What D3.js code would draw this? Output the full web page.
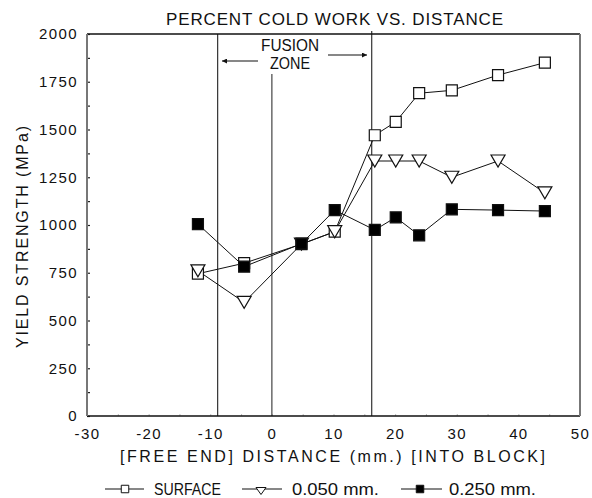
<!DOCTYPE html>
<html>
<head>
<meta charset="utf-8">
<script src="https://cdn.jsdelivr.net/npm/d3@7/dist/d3.min.js"></script>
<style>
  body { margin: 0; background: #fff; }
  svg text { font-family: "Liberation Sans", Arial, sans-serif; fill: #111; }
</style>
</head>
<body>
<svg id="chart" width="592" height="498"></svg>
<script>
// Measurement positions (mm from weld centre) and yield strengths (MPa)
const distance = [-12, -4.5, 4.8, 10.2, 16.7, 20.1, 23.9, 29.2, 36.7, 44.3];
const surface  = [745, 800, 900, 965, 1470, 1540, 1690, 1705, 1785, 1850];
const depth050 = [760, 595, 900, 965, 1335, 1335, 1335, 1250, 1335, 1168];
const depth250 = [1005, 782, 902, 1078, 974, 1040, 946, 1082, 1078, 1073];

const seriesNames = ["SURFACE", "0.050 mm.", "0.250 mm."];
const xTicks = [-30, -20, -10, 0, 10, 20, 30, 40, 50];
const yTicks = [0, 250, 500, 750, 1000, 1250, 1500, 1750, 2000];
const fusionEdges = [-8.8, 16.2];
const weldCentre = 0;

const svg = d3.select("#chart");
const plotL = 87, plotR = 580, plotT = 34, plotB = 416;

const x = d3.scaleLinear().domain([-30, 50]).range([plotL, plotR]);
const y = d3.scaleLinear().domain([0, 2000]).range([plotB, plotT]);

// Text helper: wide, evenly spaced lettering
function label(parent, str, px, len, adjust) {
  return parent.append("text")
    .style("font-size", px + "px")
    .attr("textLength", len)
    .attr("lengthAdjust", adjust || "spacing")
    .text(str);
}

// Title
label(svg, "PERCENT COLD WORK VS. DISTANCE", 17, 337).attr("x", 166).attr("y", 25);

// Minor ticks (inside the frame)
svg.append("g")
  .attr("transform", `translate(${plotL},0)`)
  .call(d3.axisRight(y).tickValues(d3.range(0, 2001, 125)).tickSize(3).tickFormat(""))
  .call(g => g.select(".domain").remove())
  .call(g => g.selectAll("line").attr("stroke", "#222").attr("stroke-width", 1.2));

svg.append("g")
  .attr("transform", `translate(0,${plotB})`)
  .call(d3.axisTop(x).tickValues(d3.range(-30, 51, 5)).tickSize(2).tickFormat(""))
  .call(g => g.select(".domain").remove())
  .call(g => g.selectAll("line").attr("stroke", "#bbb"));

// Tick labels
svg.append("g")
  .attr("transform", `translate(${plotL},0)`)
  .call(d3.axisLeft(y).tickValues(yTicks).tickSize(0).tickPadding(9).tickFormat(d3.format("d")))
  .call(g => g.select(".domain").remove())
  .call(g => g.selectAll("text").attr("fill", "#111")
    .style("font-size", "15px").style("letter-spacing", "1.4px")
    .style("font-family", "'Liberation Sans', Arial, sans-serif"));

svg.append("g")
  .attr("transform", `translate(0,${plotB})`)
  .call(d3.axisBottom(x).tickValues(xTicks).tickSize(0).tickPadding(12).tickFormat(d => d < 0 ? "-" + Math.abs(d) : d))
  .call(g => g.select(".domain").remove())
  .call(g => g.selectAll("text").attr("fill", "#111")
    .style("font-size", "15px").style("letter-spacing", "1.4px")
    .style("font-family", "'Liberation Sans', Arial, sans-serif"));

// Fusion zone boundaries and weld centre line
svg.append("line")
  .attr("x1", x(fusionEdges[0])).attr("x2", x(fusionEdges[0]))
  .attr("y1", plotT).attr("y2", plotB)
  .attr("stroke", "#333").attr("stroke-width", 1.2);
svg.append("line")
  .attr("x1", x(fusionEdges[1])).attr("x2", x(fusionEdges[1]))
  .attr("y1", plotT - 3).attr("y2", plotB)
  .attr("stroke", "#333").attr("stroke-width", 1.2);
svg.append("line")
  .attr("x1", x(weldCentre)).attr("x2", x(weldCentre))
  .attr("y1", 74).attr("y2", plotB)
  .attr("stroke", "#444").attr("stroke-width", 1.2);

// Fusion zone annotation
const defs = svg.append("defs");
defs.append("marker")
  .attr("id", "arrowhead").attr("viewBox", "0 0 10 10")
  .attr("refX", 10).attr("refY", 5)
  .attr("markerWidth", 9).attr("markerHeight", 5)
  .attr("markerUnits", "userSpaceOnUse")
  .attr("orient", "auto")
  .append("path").attr("d", "M0,0 L10,5 L0,10 Z").attr("fill", "#111");

label(svg, "FUSION", 16, 58, "spacingAndGlyphs").attr("x", 261).attr("y", 51);
label(svg, "ZONE", 16, 40, "spacingAndGlyphs").attr("x", 270).attr("y", 69);
svg.append("line").attr("x1", 258).attr("x2", 222).attr("y1", 61).attr("y2", 61)
  .attr("stroke", "#111").attr("stroke-width", 1.2).attr("marker-end", "url(#arrowhead)");
svg.append("line").attr("x1", 328).attr("x2", 367).attr("y1", 55).attr("y2", 55)
  .attr("stroke", "#111").attr("stroke-width", 1.2).attr("marker-end", "url(#arrowhead)");

// Frame
svg.append("line").attr("x1", plotL).attr("x2", plotR).attr("y1", plotT).attr("y2", plotT)
  .attr("stroke", "#111").attr("stroke-width", 1.5);
svg.append("line").attr("x1", plotL).attr("x2", plotR).attr("y1", plotB).attr("y2", plotB)
  .attr("stroke", "#111").attr("stroke-width", 1.5);
svg.append("line").attr("x1", plotL).attr("x2", plotL).attr("y1", plotT).attr("y2", plotB)
  .attr("stroke", "#777").attr("stroke-width", 2);
svg.append("line").attr("x1", plotR).attr("x2", plotR).attr("y1", plotT).attr("y2", plotB)
  .attr("stroke", "#777").attr("stroke-width", 2);

// Marker shapes
const squarePath = s => `M${-s/2},${-s/2}h${s}v${s}h${-s}Z`;
const trianglePath = (w, h) => `M${-w/2},${-h/2}L${w/2},${-h/2}L0,${h/2}Z`;

const series = [
  { name: seriesNames[0], values: surface,  shape: "square",   fill: "#fff" },
  { name: seriesNames[1], values: depth050, shape: "triangle", fill: "#fff" },
  { name: seriesNames[2], values: depth250, shape: "square",   fill: "#000" }
];

const line = d3.line().x(d => x(d[0])).y(d => y(d[1]));

series.forEach(s => {
  const pts = distance.map((d, i) => [d, s.values[i]]);
  svg.append("path").datum(pts)
    .attr("d", line).attr("fill", "none")
    .attr("stroke", "#111").attr("stroke-width", 1);
});

series.forEach(s => {
  const pts = distance.map((d, i) => [d, s.values[i]]);
  svg.append("g").selectAll("path").data(pts).join("path")
    .attr("transform", d => `translate(${x(d[0])},${y(d[1])})`)
    .attr("d", s.shape === "square" ? squarePath(11) : trianglePath(14, 12))
    .attr("fill", s.fill).attr("stroke", "#111").attr("stroke-width", 1.2);
});

// Axis titles
label(svg, "[FREE END] DISTANCE (mm.) [INTO BLOCK]", 16, 425).attr("x", 120).attr("y", 462);

label(svg, "YIELD STRENGTH (MPa)", 16, 222)
  .attr("transform", "translate(28,348) rotate(-90)");

// Legend
const legendItems = [
  { x0: 105, x1: 144, mark: 125, markY: 0, textX: 154, textLen: 67 },
  { x0: 242, x1: 282, mark: 261, markY: 2, textX: 292, textLen: 87 },
  { x0: 401, x1: 442, mark: 420, markY: 0, textX: 449, textLen: 87 }
];
series.forEach((s, i) => {
  const it = legendItems[i];
  const g = svg.append("g").attr("transform", "translate(0,489)");
  g.append("line").attr("x1", it.x0).attr("x2", it.x1).attr("y1", 0).attr("y2", 0)
    .attr("stroke", "#111").attr("stroke-width", 1.2);
  g.append("path")
    .attr("transform", `translate(${it.mark},${it.markY})`)
    .attr("d", s.shape === "square" ? squarePath(7.5) : trianglePath(10, 7))
    .attr("fill", s.fill).attr("stroke", "#111").attr("stroke-width", 1);
  label(g, s.name, 16, it.textLen, "spacingAndGlyphs").attr("x", it.textX).attr("y", 5.7);
});
</script>
</body>
</html>
